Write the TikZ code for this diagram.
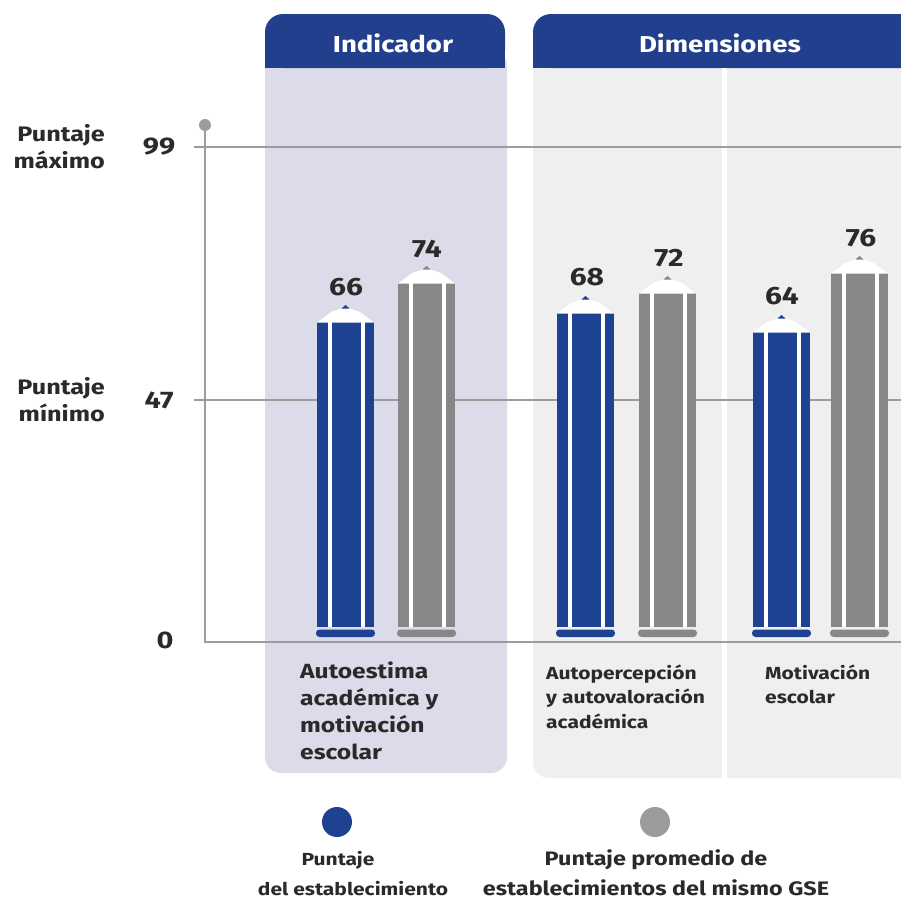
\documentclass[tikz,border=0pt]{standalone}
\usepackage{fontspec}
\setmainfont{Fira Sans}[FakeStretch=1.2]
\definecolor{hdrblue}{HTML}{223F8E}
\definecolor{barblue}{HTML}{1D4291}
\definecolor{bargray}{HTML}{878787}
\definecolor{axisgray}{HTML}{9C9C9C}
\definecolor{lav}{HTML}{DCDBE9}
\definecolor{panelgray}{HTML}{EFEFEF}
\definecolor{txt}{HTML}{2A2A2A}
\newcommand\pencilbar[3]{%
  \fill[#3] (#1,#2) rectangle ({#1+57},627);
  \fill[white] ({#1+11},#2) rectangle ({#1+15},627);
  \fill[white] ({#1+44},#2) rectangle ({#1+48},627);
  \fill[white] (#1,{#2+0.5}) -- ({#1+14},{#2-10}) -- ({#1+28.5},{#2-15}) -- ({#1+43},{#2-10}) -- ({#1+57},{#2+0.5}) -- cycle;
  \fill[#3] ({#1+24.5},{#2-13.5}) -- ({#1+28.5},{#2-17}) -- ({#1+32.5},{#2-13.5}) -- cycle;
  \fill[#3, rounded corners=3.5] ({#1-1},629.5) rectangle ({#1+58},637);
}
\tikzset{
  hdr/.style={text=white, font=\bfseries\fontsize{23}{27}\selectfont, inner sep=0pt},
  val/.style={text=txt, font=\bfseries\fontsize{25}{28}\selectfont, inner sep=0pt},
  side/.style={text=txt, font=\bfseries\fontsize{21}{27}\selectfont, inner sep=0pt, align=right},
  tick/.style={text=txt, font=\bfseries\fontsize{24}{27}\selectfont, inner sep=0pt},
  biglab/.style={text=txt, font=\bfseries\fontsize{20.5}{26.7}\selectfont, inner sep=0pt, align=left},
  smalllab/.style={text=txt, font=\bfseries\fontsize{17.5}{24.5}\selectfont, inner sep=0pt, align=left},
  leg/.style={text=txt, font=\bfseries\fontsize{19.5}{30}\selectfont, inner sep=0pt, align=center},
  legsmall/.style={text=txt, font=\bfseries\fontsize{17.5}{30}\selectfont, inner sep=0pt, align=center},
  axis/.style={draw=axisgray, line width=2.2pt}
}
\begin{document}
\begin{tikzpicture}[x=1pt, y=-1pt]
\clip (0,0) rectangle (901,903);
\fill[white] (0,0) rectangle (901,903);
% Indicator panel
\fill[lav, rounded corners=16] (265,50) rectangle (507,773);
\fill[hdrblue, rounded corners=18] (265,14) rectangle (505,68);
\fill[hdrblue] (265,45) rectangle (505,68);
\node[hdr] (indicador) at (393,43) {Indicador};
% Dimensiones panel
\fill[panelgray, rounded corners=16] (533,50) rectangle (930,778);
\fill[hdrblue, rounded corners=18] (533,14) rectangle (930,68);
\fill[hdrblue] (533,45) rectangle (930,68);
\fill[white] (722,68) rectangle (727,778);
\node[hdr] (dimensiones) at (720,43) {Dimensiones};
% axes
\coordinate (top) at (205,125);
\coordinate (origin) at (205,642);
\coordinate (xend) at (901,642);
\coordinate (l99a) at (194,147);
\coordinate (l99b) at (901,147);
\coordinate (l47a) at (194,400);
\coordinate (l47b) at (901,400);
\draw[axis] (top) -- (origin) -- (xend);
\draw[axis] (l99a) -- (l99b);
\draw[axis] (l47a) -- (l47b);
\fill[axisgray] (top) circle (6);
% side labels (base = last line)
\node[side, anchor=base east] (pmax) at (105,168) {Puntaje\\máximo};
\node[side, anchor=base east] (pmin) at (105,421) {Puntaje\\mínimo};
\node[tick] (t99) at (159,147) {99};
\node[tick] (t47) at (159,400) {47};
\node[tick] (t0) at (165,640) {0};
% bars
\pencilbar{317}{322}{barblue}
\pencilbar{398}{283}{bargray}
\pencilbar{557}{313}{barblue}
\pencilbar{639}{293}{bargray}
\pencilbar{753}{332}{barblue}
\pencilbar{831}{273}{bargray}
\node[val] (v66) at (346,287) {66};
\node[val] (v74) at (427,249) {74};
\node[val] (v68) at (587,277) {68};
\node[val] (v72) at (669,258) {72};
\node[val] (v64) at (782,296) {64};
\node[val] (v76) at (861,238) {76};
% category labels (base = last line)
\node[biglab, anchor=base west] (cat1) at (300,759) {Autoestima\\académica y\\motivación\\escolar};
\node[smalllab, anchor=base west] (cat2) at (546,728) {Autopercepción\\y autovaloración\\académica};
\node[smalllab, anchor=base west] (cat3) at (765,703.5) {Motivación\\escolar};
% legend
\fill[barblue] (337,822) circle (15);
\fill[axisgray] (655,822) circle (15);
\node[legsmall, anchor=base] (leg1a) at (338,865) {Puntaje};
\node[legsmall, anchor=base] (leg1b) at (353,895) {del establecimiento};
\node[leg, anchor=base] (leg2) at (656,895) {Puntaje promedio de\\establecimientos del mismo GSE};
\end{tikzpicture}
\end{document}
